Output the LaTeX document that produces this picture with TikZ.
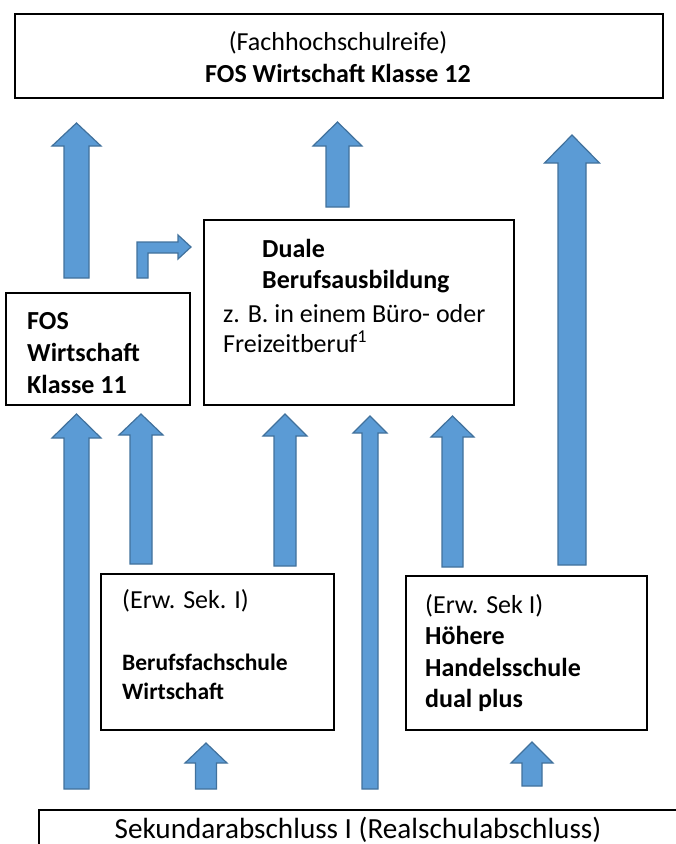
\documentclass[tikz,border=0pt]{standalone}
\usepackage{fontspec}
\setmainfont{Carlito}
\definecolor{arrfill}{HTML}{5B9BD5}
\definecolor{arrline}{HTML}{41719C}
\tikzset{
  box/.style={draw=black, line width=1.6pt, fill=white, inner sep=0pt, anchor=north west},
  txt/.style={inner sep=0pt, anchor=base west, font=\fontsize{26}{31}\selectfont},
  txtc/.style={inner sep=0pt, anchor=base, font=\fontsize{26}{31}\selectfont},
  txtb/.style={txt, font=\fontsize{26}{31}\selectfont\bfseries},
  txtcb/.style={txtc, font=\fontsize{26}{31}\selectfont\bfseries},
  txtbs/.style={txt, font=\fontsize{23.5}{29}\selectfont\bfseries},
  txtbig/.style={txtc, font=\fontsize{29.2}{35}\selectfont},
  blockarrow/.style={fill=arrfill, draw=arrline, line width=1.2pt, line join=miter},
}
% cx, tip y, head-base y, bottom y, shaft width, head width
\newcommand\blockup[6]{%
  \draw[blockarrow] ({#1-#5/2},#4) -- ({#1-#5/2},#3) -- ({#1-#6/2},#3) -- (#1,#2)
    -- ({#1+#6/2},#3) -- ({#1+#5/2},#3) -- ({#1+#5/2},#4) -- cycle;}
\begin{document}
\begin{tikzpicture}[x=1pt,y=-1pt]
\useasboundingbox (0,0) rectangle (676,844);
\clip (0,0) rectangle (676,844);

% boxes
\node[box, minimum width=648pt, minimum height=84pt] (top) at (14,13) {};
\node[box, minimum width=184pt, minimum height=112pt] (fos) at (5,292) {};
\node[box, minimum width=310pt, minimum height=185pt] (duale) at (203,219) {};
\node[box, minimum width=233pt, minimum height=156pt] (bfs) at (100,573) {};
\node[box, minimum width=241pt, minimum height=154pt] (hhs) at (405,575) {};
\node[box, minimum width=680pt, minimum height=80pt] (sek) at (38,809) {};

% texts
\node[txtc] (t1) at (338,50) {(Fachhochschulreife)};
\node[txtcb] (t2) at (338,82) {FOS Wirtschaft Klasse 12};

\node[txtb] (f1) at (27,329) {FOS};
\node[txtb] (f2) at (27,361) {Wirtschaft};
\node[txtb] (f3) at (27,393) {Klasse 11};

\node[txtb] (d1) at (262,257) {Duale};
\node[txtb] (d2) at (262,288) {Berufsausbildung};
\node[txt] (d3) at (223,322) {z. B. in einem Büro- oder};
\node[txt] (d4) at (223,352) {Freizeitberuf\textsuperscript{1}};

\node[txt] (b1) at (122,608) {(Erw. Sek. I)};
\node[txtbs] (b2) at (122,670) {Berufsfachschule};
\node[txtbs] (b3) at (122,699) {Wirtschaft};

\node[txt] (h1) at (425,613) {(Erw. Sek I)};
\node[txtb] (h2) at (425,644) {Höhere};
\node[txtb] (h3) at (425,676) {Handelsschule};
\node[txtb] (h4) at (425,707) {dual plus};

\node[txtbig] (s1) at (358,838) {Sekundarabschluss I (Realschulabschluss)};

% block arrows
\blockup{76.5}{123}{146}{278}{25}{49}
\blockup{337.5}{122}{146}{207}{23}{49}
\blockup{572}{135}{163}{565}{28}{55}
\draw[blockarrow] (137,278) -- (137,242) -- (178,242) -- (178,235) -- (191,247)
  -- (178,259) -- (178,253) -- (148,253) -- (148,278) -- cycle;

\blockup{76.5}{414}{438}{789}{25}{49}
\blockup{141}{414}{435}{564}{22}{44}
\blockup{285}{414}{436}{566}{22}{44}
\blockup{370}{416}{433}{789}{16}{34}
\blockup{452.5}{416}{437}{567}{21}{43}
\blockup{206}{743}{763}{789}{21}{42}
\blockup{532}{742}{763}{786}{20}{42}
\end{tikzpicture}
\end{document}
